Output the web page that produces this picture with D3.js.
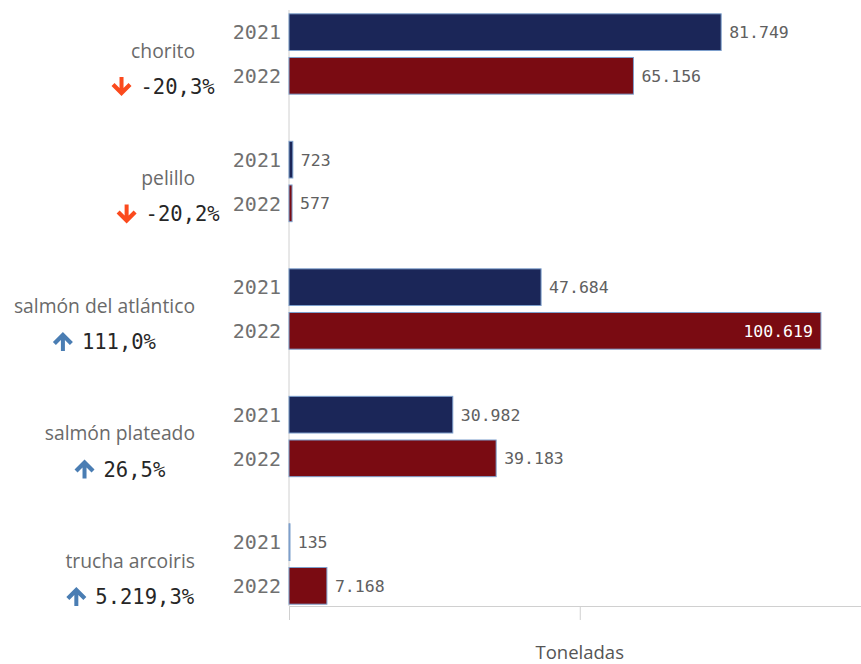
<!DOCTYPE html>
<html>
  <head>
    <meta charset="utf-8">
    <title>Toneladas 2021 vs 2022</title>
    <style>
      body { margin: 0; background: #fff; }
      svg { display: block; }
    </style>
  </head>
  <body>
    <svg width="861" height="664"></svg>
  </body>
  <script type="text/javascript" src="https://cdn.jsdelivr.net/npm/d3@7"></script>
  <script type="text/javascript">
    // datos
    const categories = ["chorito", "pelillo", "salmón del atlántico", "salmón plateado", "trucha arcoiris"];
    const years = ["2021", "2022"];
    const values2021 = [81749, 723, 47684, 30982, 135];
    const values2022 = [65156, 577, 100619, 39183, 7168];
    const changePct = [-20.3, -20.2, 111.0, 26.5, 5219.3];
    const xTickValues = [0, 55000];
    const axisTitle = "Toneladas";

    const colors = { "2021": "#1b2658", "2022": "#7a0b12" };
    const es = d3.formatLocale({ decimal: ",", thousands: ".", grouping: [3], currency: ["", ""], minus: "-" });
    const fmtVal = es.format(",d");
    const fmtPct = es.format(",.1f");

    const svg = d3.select("svg");
    const W = 861, H = 664;
    const plotLeft = 289, plotTop = 10, plotBottom = 606;

    const x = d3.scaleLinear().domain([0, 108200]).range([plotLeft, W]);
    const y = d3.scaleBand().domain(categories).range([plotTop, plotBottom + 2])
      .paddingInner(0.37).paddingOuter(0.03);
    const yInner = d3.scaleBand().domain(years).range([0, y.bandwidth()])
      .paddingInner(0.16);

    const rows = categories.map(function(c, i) {
      return { cat: c, vals: [values2021[i], values2022[i]], pct: changePct[i] };
    });

    // ejes
    const xAxis = svg.append("g")
      .attr("transform", "translate(0," + plotBottom + ")")
      .call(d3.axisBottom(x).tickValues(xTickValues).tickFormat("").tickSize(14).tickSizeOuter(0));
    xAxis.selectAll("line").attr("stroke", "#d0d0d0");
    xAxis.select(".domain").attr("stroke", "#d0d0d0");

    svg.append("line")
      .attr("x1", plotLeft).attr("x2", plotLeft)
      .attr("y1", plotTop).attr("y2", plotBottom)
      .attr("stroke", "#d0d0d0");

    svg.append("text")
      .attr("x", x(55000)).attr("y", 659)
      .attr("text-anchor", "middle")
      .attr("font-family", "Open Sans, sans-serif")
      .attr("font-size", 18.5)
      .attr("fill", "#555")
      .text(axisTitle);

    const groups = svg.selectAll("g.group")
      .data(rows)
      .enter().append("g")
      .attr("class", "group")
      .attr("transform", function(d) { return "translate(0," + y(d.cat) + ")"; });

    // barras
    groups.selectAll("rect")
      .data(function(d) { return years.map(function(yr, j) { return { yr: yr, v: d.vals[j] }; }); })
      .enter().append("rect")
      .attr("x", x(0))
      .attr("y", function(d) { return yInner(d.yr); })
      .attr("width", function(d) { return Math.max(1, x(d.v) - x(0)); })
      .attr("height", yInner.bandwidth())
      .attr("fill", function(d) { return colors[d.yr]; })
      .attr("stroke", "#7d9fcc")
      .attr("stroke-width", 1);

    // etiquetas de año
    groups.selectAll("text.year")
      .data(years)
      .enter().append("text")
      .attr("class", "year")
      .attr("x", 281)
      .attr("y", function(d) { return yInner(d) + yInner.bandwidth() / 2; })
      .attr("dy", "0.36em")
      .attr("text-anchor", "end")
      .attr("font-family", "DejaVu Sans Mono, monospace")
      .attr("font-size", 20)
      .attr("fill", "#707070")
      .text(function(d) { return d; });

    // valores
    groups.selectAll("text.val")
      .data(function(d) { return years.map(function(yr, j) { return { yr: yr, v: d.vals[j] }; }); })
      .enter().append("text")
      .attr("class", "val")
      .attr("y", function(d) { return yInner(d.yr) + yInner.bandwidth() / 2; })
      .attr("dy", "0.36em")
      .attr("font-family", "DejaVu Sans Mono, monospace")
      .attr("font-size", 16.5)
      .attr("fill", "#606060")
      .text(function(d) { return fmtVal(d.v); })
      .each(function(d) {
        const t = d3.select(this);
        const w = this.getComputedTextLength();
        const end = x(d.v);
        if (end + 8 + w > W - 4) {
          t.attr("x", end - 8).attr("text-anchor", "end").attr("fill", "#fff");
        } else {
          t.attr("x", end + 8);
        }
      });

    // nombre de categoria + variacion
    groups.each(function(d) {
      const g = d3.select(this);
      const cy = y.bandwidth() / 2;
      const lbl = g.append("text")
        .attr("x", 195).attr("y", cy + 4)
        .attr("text-anchor", "end")
        .attr("font-family", "Open Sans, sans-serif")
        .attr("font-size", 19.3)
        .attr("fill", "#6a6a6a")
        .text(d.cat);
      const lw = lbl.node().getComputedTextLength();
      const center = 195 - lw / 2;

      const up = d.pct >= 0;
      const p = g.append("g");
      const arrow = up
        ? "M10,0 L20,10 L17,13 L12,8 L12,19 L8,19 L8,8 L3,13 L0,10 Z"
        : "M10,19 L20,9 L17,6 L12,11 L12,0 L8,0 L8,11 L3,6 L0,9 Z";
      p.append("path")
        .attr("d", arrow)
        .attr("transform", "translate(0,-17)")
        .attr("fill", up ? "#4a7db3" : "#fb4a1d");
      const pt = p.append("text")
        .attr("x", 29).attr("y", 0)
        .attr("font-family", "DejaVu Sans Mono, monospace")
        .attr("font-size", 20.5)
        .attr("fill", "#262626")
        .text(fmtPct(d.pct) + "%");
      const pw = 29 + pt.node().getComputedTextLength();
      p.attr("transform", "translate(" + (center - pw / 2) + "," + (cy + 40) + ")");
    });
  </script>
</html>
